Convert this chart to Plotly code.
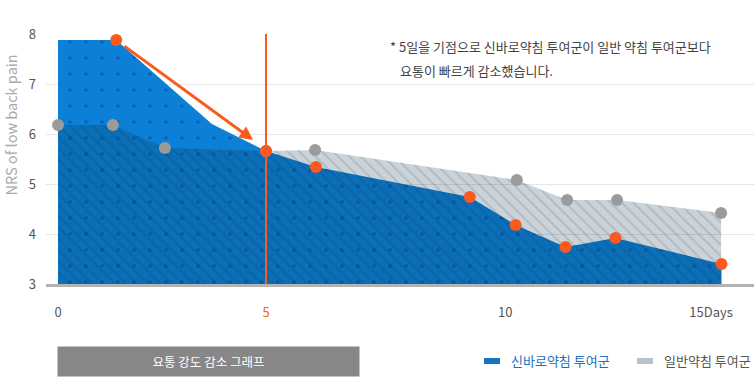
import plotly.graph_objects as go

# ---------------- data ----------------
blue_name = "신바로약침 투여군"
gray_name = "일반약침 투여군"

blue_days = [0, 1.4, 3.7, 5, 6.2, 9.9, 11.0, 12.2, 13.4, 15.95]
blue_nrs = [7.88, 7.88, 6.2, 5.66, 5.34, 4.74, 4.18, 3.74, 3.92, 3.4]
blue_measured = [False, True, False, True, True, True, True, True, True, True]

gray_days = [0, 1.32, 2.57, 5, 6.18, 11.03, 12.24, 13.44, 15.94]
gray_nrs = [6.18, 6.18, 5.72, 5.66, 5.68, 5.08, 4.68, 4.68, 4.42]

x_tick_vals = [0, 5, 10.75, 15.7]
x_tick_text = ["0", "5", "10", "15Days"]
y_tick_vals = [3, 4, 5, 6, 7, 8]

highlight_day = 5
arrow_start = (1.56, 7.78)
arrow_end = (4.69, 5.88)

note_line1 = "* 5일을 기점으로 신바로약침 투여군이 일반 약침 투여군보다"
note_line2 = "요통이 빠르게 감소했습니다."
caption = "요통 강도 감소 그래프"
y_title = "NRS of low back pain"

# ---------------- styles ----------------
ORANGE = "#fb5a1f"
BLUE = "#0b80d6"
FONT = "Noto Sans CJK KR"

W, H = 754, 390
L, R, T, B = 46, 0, 34, 106
PW, PH = W - L - R, H - T - B


def px_x(p):
    return (p - L) / PW


def px_y(p):
    return (H - B - p) / PH


fig = go.Figure()

# blue area (bright blue with small dot marks)
fig.add_trace(go.Scatter(
    x=blue_days, y=blue_nrs, mode="lines", line=dict(width=0, color=BLUE),
    fill="tozeroy", fillcolor=BLUE,
    fillpattern=dict(shape=".", bgcolor=BLUE, fgcolor="#064f95", fgopacity=0.6,
                     size=16, solidity=0.04),
    hoverinfo="skip", showlegend=False,
))

# gray area overlay (semi-transparent, diagonal hatch)
fig.add_trace(go.Scatter(
    x=gray_days, y=gray_nrs, mode="lines", line=dict(width=0, color="rgba(0,0,0,0)"),
    fill="tozeroy", fillcolor="rgba(9,46,70,0.21)",
    fillpattern=dict(shape="\\", bgcolor="rgba(9,46,70,0.21)", fgcolor="rgb(0,25,55)",
                     fgopacity=0.13, size=8, solidity=0.25),
    hoverinfo="skip", showlegend=False,
))

# gray dots
fig.add_trace(go.Scatter(
    x=gray_days, y=gray_nrs, mode="markers",
    marker=dict(size=12, color="#9b9b9b"), showlegend=False,
))

# vertical highlight line
fig.add_shape(type="line", xref="x", yref="paper", x0=highlight_day, x1=highlight_day,
              y0=0, y1=1, line=dict(color=ORANGE, width=2), layer="above")

# orange dots (measured points only)
fig.add_trace(go.Scatter(
    x=[d for d, m in zip(blue_days, blue_measured) if m],
    y=[v for v, m in zip(blue_nrs, blue_measured) if m],
    mode="markers", marker=dict(size=12, color=ORANGE), showlegend=False,
))

# arrow
fig.add_annotation(x=arrow_end[0], y=arrow_end[1], ax=arrow_start[0], ay=arrow_start[1],
                   xref="x", yref="y", axref="x", ayref="y", text="", showarrow=True,
                   arrowhead=2, arrowsize=0.9, arrowwidth=3.0, arrowcolor=ORANGE)

# note text
fig.add_annotation(x=px_x(388), y=px_y(46), xref="paper", yref="paper", text=note_line1,
                   showarrow=False, xanchor="left", yanchor="middle",
                   font=dict(family=FONT, size=13, color="#444"))
fig.add_annotation(x=px_x(398), y=px_y(70), xref="paper", yref="paper", text=note_line2,
                   showarrow=False, xanchor="left", yanchor="middle",
                   font=dict(family=FONT, size=13, color="#444"))

# y title
fig.add_annotation(x=px_x(9.5), y=px_y(125), xref="paper", yref="paper", text=y_title,
                   textangle=-90, showarrow=False, xanchor="center", yanchor="middle",
                   font=dict(family=FONT, size=14.5, color="#aaaaaa"))

# caption box (annotation with background)
fig.add_annotation(x=px_x(57), y=px_y(346), xref="paper", yref="paper", text=caption,
                   showarrow=False, xanchor="left", yanchor="top",
                   width=301, height=29, borderpad=0, bgcolor="#878787",
                   align="center", valign="middle",
                   font=dict(family=FONT, size=12.5, color="white"))

# custom legend
fig.add_shape(type="rect", xref="paper", yref="paper", x0=px_x(484), x1=px_x(500),
              y0=px_y(364), y1=px_y(358), fillcolor="#1a72bf", line=dict(width=0))
fig.add_annotation(x=px_x(509), y=px_y(360), xref="paper", yref="paper", text=blue_name,
                   showarrow=False, xanchor="left", yanchor="middle",
                   font=dict(family=FONT, size=13, color="#1a6fc0"))
fig.add_shape(type="rect", xref="paper", yref="paper", x0=px_x(637), x1=px_x(653),
              y0=px_y(364), y1=px_y(358), fillcolor="#b7c1c9", line=dict(width=0))
fig.add_annotation(x=px_x(662), y=px_y(360), xref="paper", yref="paper", text=gray_name,
                   showarrow=False, xanchor="left", yanchor="middle",
                   font=dict(family=FONT, size=13, color="#555"))

x_min = -(58 - L) / ((266 - 58) / 5)
x_max = x_min + PW / ((266 - 58) / 5)

fig.update_layout(
    width=W, height=H, margin=dict(l=L, r=R, t=T, b=B),
    paper_bgcolor="white", plot_bgcolor="white",
    font=dict(family=FONT, color="#555"),
    xaxis=dict(range=[x_min, x_max], tickvals=x_tick_vals,
               ticktext=[f'<span style="color:{ORANGE}">{t}</span>' if v == highlight_day else t
                         for v, t in zip(x_tick_vals, x_tick_text)],
               showgrid=False, zeroline=False, showline=True, linecolor="#b3b3b3", linewidth=3,
               ticks="", ticklabelstandoff=14, tickfont=dict(size=13, color="#555")),
    yaxis=dict(range=[3, 8], tickvals=y_tick_vals, showgrid=True, gridcolor="#e6e6e6",
               gridwidth=1, zeroline=False, showline=False, ticks="",
               ticklabelstandoff=9, tickfont=dict(size=13, color="#555")),
    showlegend=False,
)

fig.write_html(
    "out.html",
    config={"displayModeBar": False},
    post_script="document.body.style.margin='0px';document.body.style.overflow='hidden';",
)
